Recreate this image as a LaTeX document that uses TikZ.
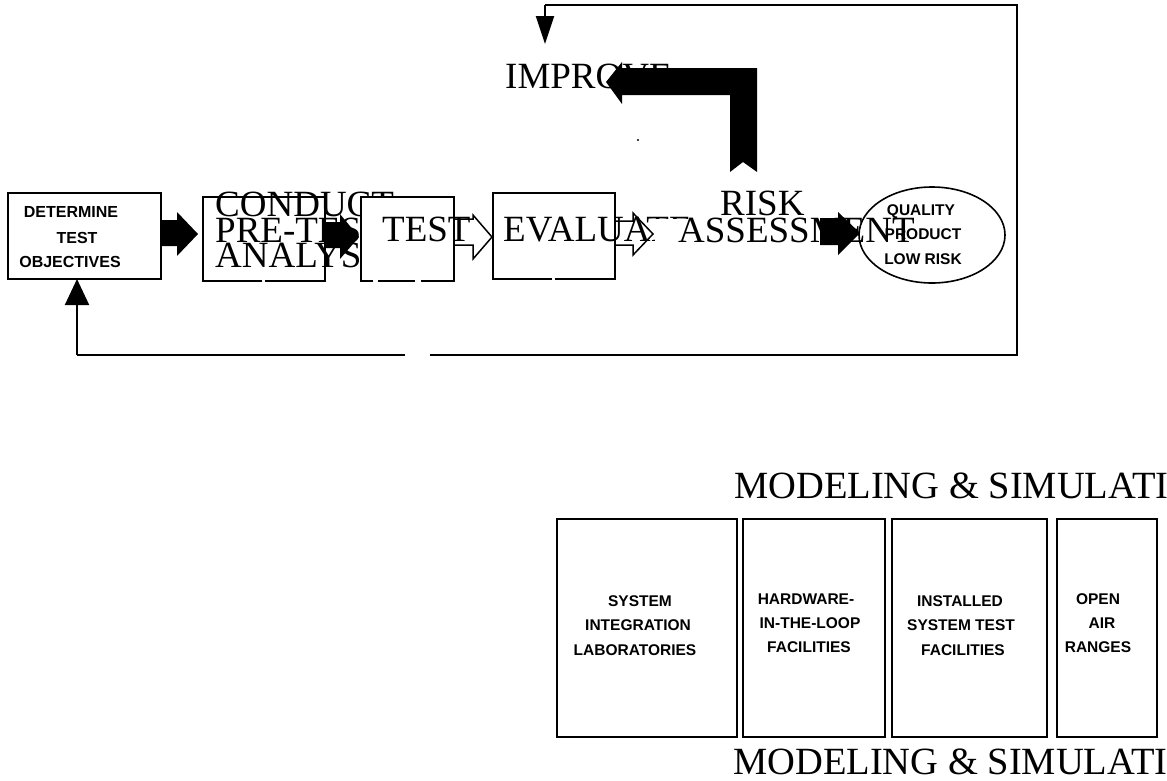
\documentclass[tikz,border=0pt]{standalone}
\usepackage{fontspec}
\setmainfont{Liberation Serif}
\newfontfamily\labelfont{Liberation Sans}
\usetikzlibrary{arrows.meta,shapes.geometric}

\begin{document}
\begin{tikzpicture}[x=1pt,y=-1pt,
  box/.style={draw=black,line width=2pt,fill=white,inner sep=0pt},
  facbox/.style={draw=black,line width=2.3pt,fill=white,inner sep=0pt,minimum height=218pt},
  bigtext/.style={font=\fontsize{37}{37}\selectfont,inner sep=0pt,anchor=base west},
  headtext/.style={font=\fontsize{38.5}{38.5}\selectfont,inner sep=0pt,anchor=base west},
  lbl/.style={font=\labelfont\bfseries\fontsize{15.5}{15.5}\selectfont,inner sep=0pt,anchor=base},
  loopline/.style={draw=black,line width=2pt},
  solidarrow/.style={fill=black},
  hollowarrow/.style={draw=black,line width=1.5pt,line join=miter},
  gapmark/.style={draw=white,line width=3pt}
]
\clip (0,0) rectangle (1167,780);
\fill[white] (0,0) rectangle (1167,780);

% ---------- feedback loop ----------
\coordinate (loopNE) at (1017,5);
\coordinate (loopSE) at (1017,355);
\coordinate (loopGapR) at (430,355);
\coordinate (loopGapL) at (405,355);
\coordinate (loopSW) at (77,355);
\coordinate (loopNW) at (545,5);
\coordinate (impIn) at (545,44);
\coordinate (detIn) at (77,279);

\draw[loopline] (loopGapR) -- (loopSE) -- (loopNE) -- (loopNW);
\draw[loopline,-{Triangle[length=28pt,width=18pt]}] (loopNW) -- (impIn);
\draw[loopline] (loopGapL) -- (loopSW);
\draw[loopline,-{Triangle[length=26pt,width=24pt]}] (loopSW) -- (detIn);

% ---------- determine test objectives ----------
\node[box,minimum width=153pt,minimum height=86pt] (det) at (84.5,236) {};
\node[lbl,font=\labelfont\bfseries\fontsize{16}{16}\selectfont] (det1) at (71,217) {DETERMINE};
\node[lbl,font=\labelfont\bfseries\fontsize{16}{16}\selectfont] (det2) at (77,243) {TEST};
\node[lbl,font=\labelfont\bfseries\fontsize{16}{16}\selectfont] (det3) at (70,267) {OBJECTIVES};

% solid arrow: determine -> conduct
\fill[solidarrow] (161,220) -- (177,220) -- (177,212) -- (198,234) -- (177,256) -- (177,246) -- (161,246) -- cycle;

% ---------- conduct pre-test analysis ----------
\node[box,minimum width=122pt,minimum height=84pt] (pre) at (264,239) {};
\fill[solidarrow] (325,222) -- (340,222) -- (340,214) -- (359,237) -- (340,259) -- (340,248) -- (325,248) -- cycle;
\node[bigtext] (pre1) at (215,216) {CONDUCT};
\node[bigtext] (pre2) at (215,242) {PRE-TEST};
\node[bigtext] (pre3) at (215,267) {ANALYSIS};

% ---------- test ----------
\node[box,minimum width=93pt,minimum height=84pt] (tst) at (407.5,239) {};
\draw[hollowarrow] (454,219) -- (473,219) -- (473,215) -- (492,237) -- (473,259) -- (473,245) -- (454,245) -- cycle;
\node[bigtext] (tst1) at (382,241) {TEST};

% ---------- evaluate ----------
\node[box,minimum width=122pt,minimum height=86pt] (eva) at (554,236) {};
\node[bigtext] (eva1) at (503,241) {EVALUATE};
\draw[hollowarrow] (615,221) -- (633,221) -- (633,213) -- (653,234) -- (633,255) -- (633,245) -- (615,245) -- cycle;

% ---------- risk assessment ----------
\node[bigtext] (risk1) at (720,215) {RISK};
\fill[white] (655,219) rectangle (915,250);
\node[bigtext] (risk2) at (678,242) {ASSESSMENT};
\fill[solidarrow] (820,218) -- (838,218) -- (838,212) -- (860,233) -- (838,255) -- (838,245) -- (820,245) -- cycle;

% ---------- outcome ----------
\node[ellipse,draw=black,line width=1.6pt,minimum width=146pt,minimum height=96pt,inner sep=0pt] (qual) at (932,235) {};
\node[lbl] (qual1) at (921,215) {QUALITY};
\node[lbl] (qual2) at (923,239) {PRODUCT};
\node[lbl] (qual3) at (923,264) {LOW RISK};

% ---------- improve ----------
\node[bigtext] (imp) at (505,88) {IMPROVE};
\fill[solidarrow] (757,172) -- (757,68) -- (622,68) -- (622,62) -- (606,82) -- (622,104) -- (622,95)
  -- (730,95) -- (730,172) -- (743,162) -- cycle;
\fill (638,140) circle (1.1pt);

% breaks in the box outlines
\draw[gapmark] (262,281) -- (265,281);
\draw[gapmark] (373,281) -- (378,281);
\draw[gapmark] (415,281) -- (421,281);
\draw[gapmark] (552,279) -- (555,279);

% ---------- test facilities ----------
\node[headtext] (ms1) at (734,498) {MODELING \& SIMULATION};

\node[facbox,minimum width=180pt] (sil) at (647,628) {};
\node[facbox,minimum width=142pt] (hil) at (814,628) {};
\node[facbox,minimum width=155pt] (ist) at (969.5,628) {};
\node[facbox,minimum width=100pt] (oar) at (1107,628) {};

\node[lbl] (sil1) at (640,606) {SYSTEM};
\node[lbl] (sil2) at (638,630.5) {INTEGRATION};
\node[lbl] (sil3) at (635,655) {LABORATORIES};

\node[lbl] (hil1) at (806,604) {HARDWARE-};
\node[lbl] (hil2) at (810,628) {IN-THE-LOOP};
\node[lbl] (hil3) at (809,652) {FACILITIES};

\node[lbl] (ist1) at (960,606) {INSTALLED};
\node[lbl] (ist2) at (961,630.5) {SYSTEM TEST};
\node[lbl] (ist3) at (963,655) {FACILITIES};

\node[lbl] (oar1) at (1098,604) {OPEN};
\node[lbl] (oar2) at (1102,628) {AIR};
\node[lbl] (oar3) at (1098,652) {RANGES};

\node[headtext] (ms2) at (733,774) {MODELING \& SIMULATION};
\end{tikzpicture}
\end{document}
